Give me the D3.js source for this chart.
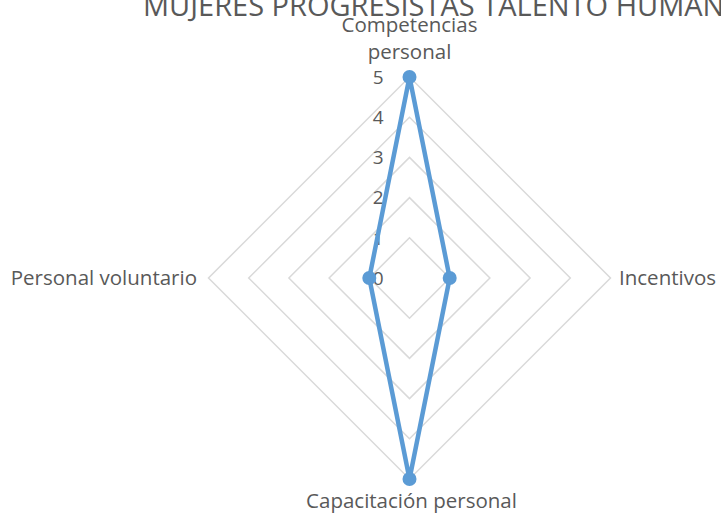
<!DOCTYPE html>
<html lang="es">
<head>
  <meta charset="UTF-8">
  <title>Mujeres Progresistas Talento Humano</title>
  <script src="https://d3js.org/d3.v7.min.js"></script>
  <style>
    body { margin: 0; background: #fff; }
    text { font-family: "Open Sans", sans-serif; fill: #595959; }
  </style>
</head>
<body>
<script>
  var width = 721, height = 515;
  var cx = 409.5, cy = 278, maxR = 201;

  var categories = ["Competencias personal", "Incentivos", "Capacitación personal", "Personal voluntario"];
  var values = [5, 1, 5, 1];
  var ticks = [0, 1, 2, 3, 4, 5];

  var svg = d3.select("body").append("svg")
      .attr("width", width)
      .attr("height", height);

  var r = d3.scaleLinear().domain([0, 5]).range([0, maxR]);
  var angle = d3.scalePoint().domain(d3.range(categories.length + 1)).range([0, 2 * Math.PI]);

  function pt(i, v) {
    var a = angle(i);
    return [cx + r(v) * Math.sin(a), cy - r(v) * Math.cos(a)];
  }

  var g = svg.append("g");

  // grid rings
  g.selectAll("polygon.ring")
    .data(ticks.slice(1))
    .enter().append("polygon")
      .attr("class", "ring")
      .attr("points", function(t) {
        return categories.map(function(c, i) { return pt(i, t).join(","); }).join(" ");
      })
      .attr("fill", "none")
      .attr("stroke", "#d9d9d9")
      .attr("stroke-width", 1.5);

  // tick labels
  g.selectAll("text.tick")
    .data(ticks)
    .enter().append("text")
      .attr("class", "tick")
      .attr("x", cx - 26)
      .attr("y", function(t) { return cy - r(t); })
      .attr("dy", "0.36em")
      .attr("text-anchor", "end")
      .style("font-size", "19px")
      .text(function(t) { return t; });

  // series
  var line = d3.line().curve(d3.curveLinearClosed);
  g.append("path")
    .attr("d", line(values.map(function(v, i) { return pt(i, v); })))
    .attr("fill", "none")
    .attr("stroke", "#5b9bd5")
    .attr("stroke-width", 4.5)
    .attr("stroke-linejoin", "round");

  g.selectAll("circle")
    .data(values)
    .enter().append("circle")
      .attr("cx", function(v, i) { return pt(i, v)[0]; })
      .attr("cy", function(v, i) { return pt(i, v)[1]; })
      .attr("r", 7)
      .attr("fill", "#5b9bd5");

  // category labels
  var lab = svg.append("g").style("font-size", "20.5px");
  var topLab = lab.append("text").attr("text-anchor", "middle");
  topLab.append("tspan").attr("x", cx).attr("y", 32).text("Competencias");
  topLab.append("tspan").attr("x", cx).attr("y", 59).text("personal");
  lab.append("text").attr("x", 619).attr("y", cy + 7).text(categories[1]);
  lab.append("text").attr("x", cx + 2).attr("y", 508).attr("text-anchor", "middle").text(categories[2]);
  lab.append("text").attr("x", 197).attr("y", cy + 7).attr("text-anchor", "end").text(categories[3]);

  // title (clipped at top as in the original)
  svg.append("text")
    .attr("x", 143)
    .attr("y", 16)
    .style("font-size", "29px")
    .text("MUJERES PROGRESISTAS TALENTO HUMANO");
</script>
</body>
</html>
